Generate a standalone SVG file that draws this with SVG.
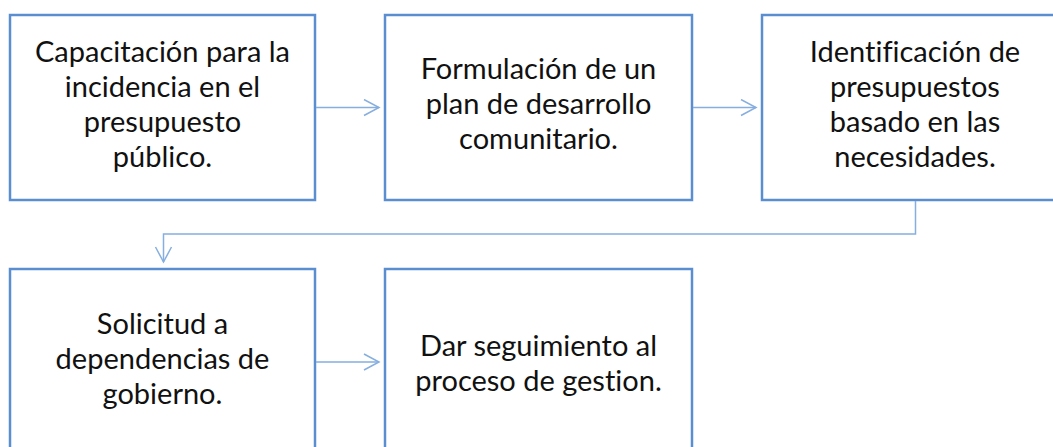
<svg xmlns="http://www.w3.org/2000/svg" width="1053" height="447" viewBox="0 0 1053 447">
<style>
.box{fill:#fff;stroke:#5A8ED0;stroke-width:2.5}
.lbl{font-family:Lato,"Liberation Sans",sans-serif;font-size:29px;fill:#111;text-anchor:middle;font-variant-ligatures:none}
.con{fill:none;stroke:#86AEDF;stroke-width:1.5}
</style>
<defs>
<marker id="arr" markerWidth="18" markerHeight="20" refX="16" refY="9" orient="auto" markerUnits="userSpaceOnUse">
<path d="M1,1 L16,9 L1,17" fill="none" stroke="#86AEDF" stroke-width="1.5"/>
</marker>
</defs>
<rect width="1053" height="447" fill="#fff"/>
<g id="n1"><rect class="box" x="10" y="15" width="305" height="185"/>
<text class="lbl" x="162.5" y="62">Capacitación para la</text>
<text class="lbl" x="162.5" y="97">incidencia  en el</text>
<text class="lbl" x="162.5" y="132">presupuesto</text>
<text class="lbl" x="162.5" y="167">público.</text></g>
<g id="n2"><rect class="box" x="385" y="15" width="307" height="185"/>
<text class="lbl" x="538.5" y="79">Formulación de un</text>
<text class="lbl" x="538.5" y="114">plan de desarrollo</text>
<text class="lbl" x="538.5" y="149">comunitario.</text></g>
<g id="n3"><rect class="box" x="762" y="15" width="307" height="185"/>
<text class="lbl" x="915" y="62">Identificación de</text>
<text class="lbl" x="915" y="97">presupuestos</text>
<text class="lbl" x="915" y="132">basado en las</text>
<text class="lbl" x="915" y="167">necesidades.</text></g>
<g id="n4"><rect class="box" x="10" y="269" width="305" height="185"/>
<text class="lbl" x="162.5" y="334">Solicitud a</text>
<text class="lbl" x="162.5" y="369">dependencias de</text>
<text class="lbl" x="162.5" y="404">gobierno.</text></g>
<g id="n5"><rect class="box" x="385" y="269" width="307" height="185"/>
<text class="lbl" x="538.5" y="356">Dar seguimiento al</text>
<text class="lbl" x="538.5" y="391">proceso de gestion.</text></g>
<g id="connectors">
<line class="con" x1="316" y1="107.5" x2="379" y2="107.5" marker-end="url(#arr)"/>
<line class="con" x1="693" y1="107.5" x2="756" y2="107.5" marker-end="url(#arr)"/>
<polyline class="con" points="915.5,201 915.5,234 163.5,234 163.5,262" marker-end="url(#arr)"/>
<line class="con" x1="316" y1="362" x2="379" y2="362" marker-end="url(#arr)"/>
</g>
</svg>
